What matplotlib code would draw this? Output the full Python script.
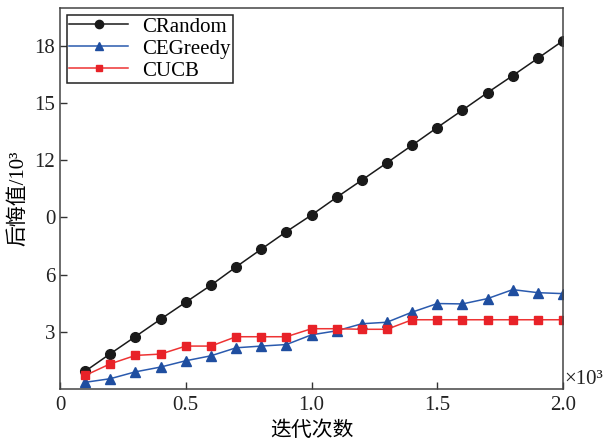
import matplotlib
matplotlib.use("Agg")
import matplotlib.pyplot as plt

plt.rcParams['font.family'] = ['Liberation Serif', 'Noto Sans CJK SC']

iters = [0.1, 0.2, 0.3, 0.4, 0.5, 0.6, 0.7, 0.8, 0.9, 1.0,
         1.1, 1.2, 1.3, 1.4, 1.5, 1.6, 1.7, 1.8, 1.9, 2.0]
crandom = [0.93, 1.85, 2.75, 3.66, 4.55, 5.44, 6.40, 7.33, 8.25, 9.12,
           10.05, 10.95, 11.86, 12.78, 13.71, 14.62, 15.54, 16.43, 17.34, 18.26]
cegreedy = [0.35, 0.54, 0.90, 1.15, 1.48, 1.74, 2.16, 2.25, 2.33, 2.84,
            3.05, 3.42, 3.50, 4.03, 4.48, 4.46, 4.74, 5.21, 5.05, 5.00]
cucb = [0.71, 1.32, 1.76, 1.83, 2.25, 2.25, 2.74, 2.74, 2.74, 3.16,
        3.16, 3.13, 3.13, 3.63, 3.63, 3.63, 3.63, 3.63, 3.63, 3.63]

xticks = [0, 0.5, 1.0, 1.5, 2.0]
xticklabels = ['0', '0.5', '1.0', '1.5', '2.0']
yticks = [3, 6, 9, 12, 15, 18]
yticklabels = ['3', '6', '0', '12', '15', '18']

fig = plt.figure(figsize=(6.05, 4.44), dpi=100)
ax = fig.add_axes([0.0992, 0.1239, 0.8314, 0.8591])

ax.plot(iters, crandom, color='#1a1a1a', lw=1.1, marker='o', ms=7, label='CRandom')
ax.plot(iters, cegreedy, color='#2a5aae', lw=1.1, marker='^', ms=6.5,
        mfc='#1f4ea0', mec='#1f4ea0', label='CEGreedy')
ax.plot(iters, cucb, color='#ee3333', lw=1.1, marker='s', ms=5.5,
        mfc='#e82228', mec='#e82228', label='CUCB')

ax.set_xlim(0, 2.0)
ax.set_ylim(0, 20)
ax.set_xticks(xticks)
ax.set_xticklabels(xticklabels)
ax.set_yticks(yticks)
ax.set_yticklabels(yticklabels)
ax.tick_params(direction='in', labelsize=15, length=5, width=1, colors='#333333',
               labelcolor='#222222')
ax.tick_params(axis='x', pad=5)
for s in ax.spines.values():
    s.set_color('#444444')
    s.set_linewidth(1.1)

ax.set_xlabel('迭代次数', fontsize=15, labelpad=5)
ax.set_ylabel('后悔值/10³', fontsize=15, labelpad=4)
ax.text(1.003, 0.025, '×10³', transform=ax.transAxes, fontsize=15,
        ha='left', va='center', color='#222222')

leg = ax.legend(loc='upper left', fontsize=15, frameon=True, fancybox=False,
                handlelength=2.8, borderpad=0.1, labelspacing=0.12,
                handletextpad=0.7, borderaxespad=0.35, markerscale=0.85)
leg.get_frame().set_edgecolor('#222222')
leg.get_frame().set_linewidth(1.1)
leg.get_frame().set_alpha(1)

fig.savefig('out.png', dpi=100)
